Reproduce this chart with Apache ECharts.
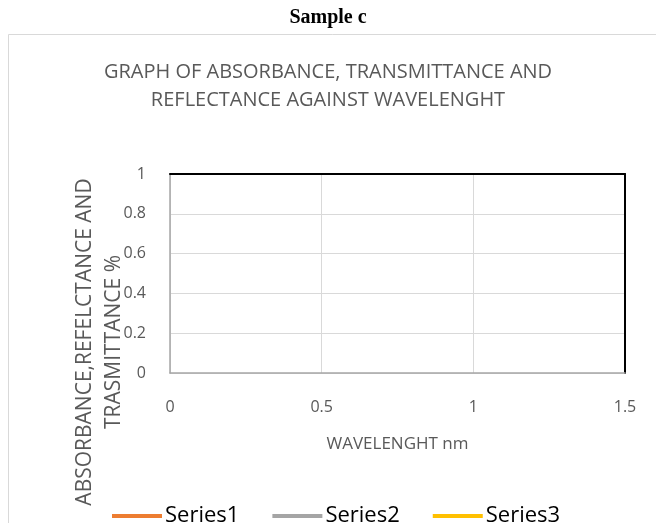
<!DOCTYPE html>
<html>
<head>
<meta charset="utf-8">
<script src="https://cdn.jsdelivr.net/npm/echarts@6/dist/echarts.min.js"></script>
<style>
html,body{margin:0;padding:0;background:#fff;}
#container{width:656px;height:523px;}
</style>
</head>
<body>
<div id="container"></div>
<script>
// 三条数据系列（原图中为空）
var seriesNames = ['Series1', 'Series2', 'Series3'];
var seriesColors = ['#ED7D31', '#A5A5A5', '#FFC000'];
var series1Values = [];
var series2Values = [];
var series3Values = [];

var xMin = 0, xMax = 1.5, xStep = 0.5;
var yMin = 0, yMax = 1, yStep = 0.2;

var font = 'Open Sans';
var grey = '#595959';

var dom = document.getElementById('container');
var myChart = echarts.init(dom);

var allValues = [series1Values, series2Values, series3Values];

var option = {
	animation: false,
	backgroundColor: '#fff',
	title: [{
		text: 'Sample c',
		left: 'center',
		top: 3,
		textStyle: {
			fontFamily: 'Liberation Serif',
			fontWeight: 'bold',
			fontSize: 20,
			color: '#000'
		}
	}, {
		text: 'GRAPH OF ABSORBANCE, TRANSMITTANCE AND\nREFLECTANCE AGAINST WAVELENGHT',
		left: 'center',
		top: 53,
		textStyle: {
			fontFamily: font,
			fontWeight: 'normal',
			fontSize: 20,
			lineHeight: 28,
			color: grey
		}
	}],
	legend: {
		bottom: -9,
		left: 107,
		icon: 'rect',
		itemWidth: 50,
		itemHeight: 4,
		itemGap: 33,
		textStyle: {
			fontFamily: font,
			fontSize: 22,
			color: '#000',
			padding: [0, 0, 0, -2]
		},
		data: seriesNames
	},
	graphic: [{
		type: 'rect',
		shape: { x: 8.5, y: 34.5, width: 700, height: 600 },
		style: { fill: 'none', stroke: '#d9d9d9', lineWidth: 1 },
		z: -10
	}, {
		type: 'text',
		x: 100,
		y: 342,
		rotation: Math.PI / 2,
		style: {
			text: 'ABSORBANCE,REFELCTANCE AND\nTRASMITTANCE %',
			fontFamily: font,
			fontSize: 21,
			lineHeight: 29,
			fill: grey,
			align: 'center',
			verticalAlign: 'middle'
		}
	}],
	grid: {
		left: 170,
		right: 31,
		top: 174,
		bottom: 150
	},
	xAxis: [{
		type: 'value',
		min: xMin,
		max: xMax,
		interval: xStep,
		name: 'WAVELENGHT nm',
		nameLocation: 'middle',
		nameGap: 63,
		nameTextStyle: { fontFamily: font, fontSize: 17, color: grey },
		axisLine: { show: true, onZero: false, lineStyle: { color: '#a6a6a6', width: 1.5 } },
		axisTick: { show: false },
		axisLabel: { fontFamily: font, fontSize: 16, color: grey, margin: 26 },
		splitLine: { show: true, lineStyle: { color: '#d9d9d9', width: 1 } }
	}, {
		type: 'value',
		position: 'top',
		min: xMin,
		max: xMax,
		interval: xStep,
		axisLine: { show: true, onZero: false, lineStyle: { color: '#000', width: 2 } },
		axisTick: { show: false },
		axisLabel: { show: false },
		splitLine: { show: false }
	}],
	yAxis: [{
		type: 'value',
		min: yMin,
		max: yMax,
		interval: yStep,
		axisLine: { show: true, onZero: false, lineStyle: { color: '#a6a6a6', width: 1.5 } },
		axisTick: { show: false },
		axisLabel: { fontFamily: font, fontSize: 16, color: grey, margin: 24 },
		splitLine: { show: true, lineStyle: { color: '#d9d9d9', width: 1 } }
	}, {
		type: 'value',
		position: 'right',
		min: yMin,
		max: yMax,
		interval: yStep,
		axisLine: { show: true, onZero: false, lineStyle: { color: '#000', width: 2 } },
		axisTick: { show: false },
		axisLabel: { show: false },
		splitLine: { show: false }
	}],
	series: seriesNames.map(function (name, i) {
		return {
			name: name,
			type: 'line',
			showSymbol: false,
			itemStyle: { color: seriesColors[i] },
			lineStyle: { color: seriesColors[i], width: 2.5 },
			data: allValues[i]
		};
	})
};

myChart.setOption(option, true);
</script>
</body>
</html>
